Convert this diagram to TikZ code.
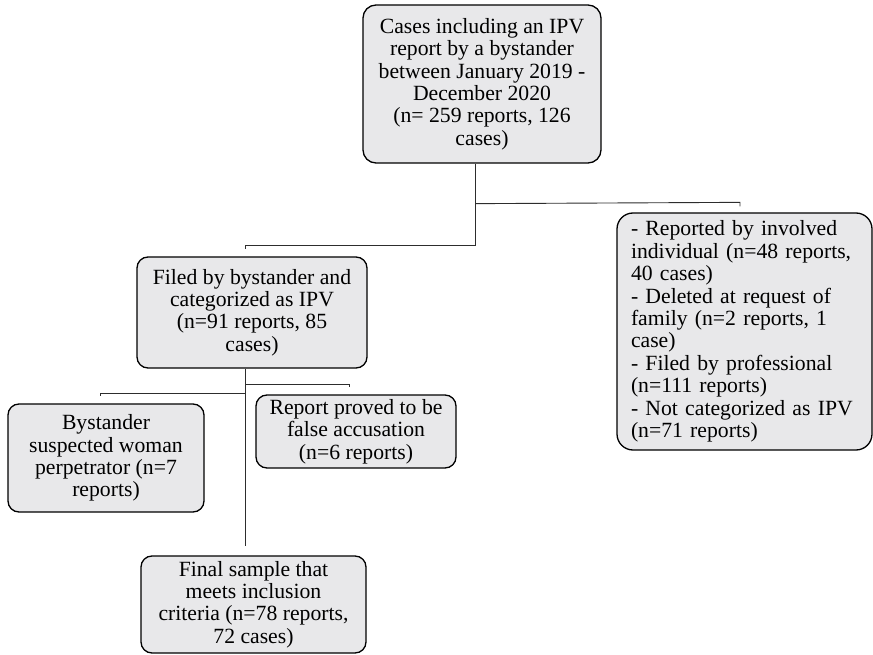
\documentclass[tikz,border=0pt]{standalone}
\usepackage{fontspec}
\setmainfont{Liberation Serif}
\definecolor{boxfill}{RGB}{232,232,234}
\definecolor{linkgray}{RGB}{45,45,45}
\begin{document}
\begin{tikzpicture}[x=1pt,y=-1pt,
  box/.style={draw=black, line width=1.3pt, fill=boxfill, rounded corners=11pt,
    align=center, inner sep=0pt, font=\fontsize{21.7}{22.4}\selectfont},
  link/.style={draw=linkgray, line width=0.9pt}]
\useasboundingbox (0,0) rectangle (873,655);

% boxes
\node[box, minimum width=238pt, minimum height=158pt, rounded corners=13pt] (top) at (482,84)
  {Cases including an IPV\\report by a bystander\\between January 2019 -\\December 2020\\(n= 259 reports, 126\\cases)};
\node[box, minimum width=230pt, minimum height=111pt] (filed) at (252,312.5)
  {Filed by bystander and\\categorized as IPV\\(n=91 reports, 85\\cases)};
\node[box, minimum width=255pt, minimum height=237pt, rounded corners=16pt,
      align=left, text width=227pt] (excl) at (744.5,331.5)
  {- Reported by involved\\individual (n=48 reports,\\40 cases)\\- Deleted at request of\\family (n=2 reports, 1\\case)\\- Filed by professional\\(n=111 reports)\\- Not categorized as IPV\\(n=71 reports)};
\node[box, minimum width=196pt, minimum height=108pt] (bys) at (106,458)
  {Bystander\\suspected woman\\perpetrator (n=7\\reports)};
\node[box, minimum width=200pt, minimum height=73pt] (report) at (356,431.5)
  {Report proved to be\\false accusation\\(n=6 reports)};
\node[box, minimum width=225pt, minimum height=97pt] (final) at (253.5,604.5)
  {Final sample that\\meets inclusion\\criteria (n=78 reports,\\72 cases)};

% connectors from the first box
\draw[link] ([xshift=-7pt]top.south) |- ([xshift=-7pt,yshift=11pt]filed.north) -- ++(0,4);
\draw[link] ([xshift=-7pt]top.south) ++(0,40) -- ([xshift=-4.5pt,yshift=10pt]excl.north) -- ++(0,4);

% connectors below the filed box
\draw[link] ([xshift=-7pt]filed.south) -- ([xshift=-8.5pt,yshift=9pt]final.north);
\draw[link] ([xshift=-7pt]filed.south) ++(0,16) -| ([xshift=-7pt,yshift=7pt]report.north);
\draw[link] ([xshift=-7pt]filed.south) ++(0,25) -| ([xshift=-6pt,yshift=7pt]bys.north);
\end{tikzpicture}
\end{document}
